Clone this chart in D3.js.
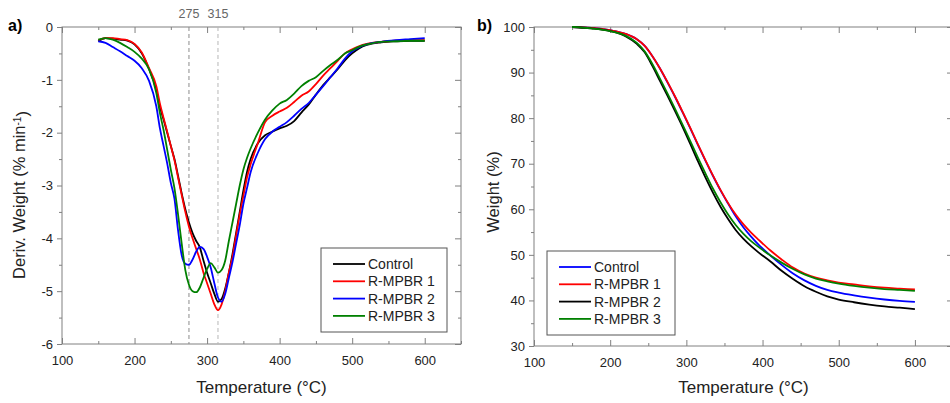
<!DOCTYPE html>
<html>
<head>
<meta charset="utf-8">
<script src="https://cdn.jsdelivr.net/npm/d3@7"></script>
<style>
  body { margin: 0; background: #fff; }
  svg { display: block; font-family: "Liberation Sans", Arial, sans-serif; }
</style>
</head>
<body>
<div class="chart"></div>
<script>
// ---- panel a : DTG curves (Deriv. weight, % min-1) ----
const tempA = [150,160,170,180,190,200,210,220,230,235,240,245,250,255,260,265,270,275,280,285,290,295,300,305,310,315,320,325,330,335,340,345,350,355,360,370,380,390,400,410,420,430,440,450,460,470,480,490,500,510,520,540,560,580,600];
const controlA = [-0.27,-0.21,-0.22,-0.24,-0.26,-0.33,-0.5,-0.8,-1.19,-1.51,-1.75,-2.0,-2.25,-2.5,-2.82,-3.15,-3.45,-3.7,-3.9,-4.05,-4.17,-4.42,-4.65,-4.85,-5.05,-5.2,-5.15,-4.95,-4.65,-4.3,-3.9,-3.5,-3.1,-2.75,-2.5,-2.2,-2.05,-1.98,-1.92,-1.87,-1.78,-1.62,-1.47,-1.28,-1.1,-0.95,-0.8,-0.63,-0.5,-0.4,-0.34,-0.29,-0.27,-0.26,-0.26];
const rmpbr1A = [-0.25,-0.21,-0.21,-0.23,-0.25,-0.32,-0.48,-0.78,-1.12,-1.45,-1.72,-1.98,-2.25,-2.52,-2.85,-3.18,-3.5,-3.78,-4.0,-4.2,-4.4,-4.65,-4.85,-5.05,-5.25,-5.36,-5.25,-5.0,-4.65,-4.35,-3.95,-3.55,-3.2,-2.85,-2.6,-2.2,-1.8,-1.68,-1.6,-1.53,-1.42,-1.3,-1.22,-1.08,-0.92,-0.78,-0.64,-0.5,-0.42,-0.36,-0.32,-0.28,-0.26,-0.25,-0.25];
const rmpbr2A = [-0.27,-0.3,-0.38,-0.46,-0.55,-0.64,-0.78,-1.02,-1.5,-1.92,-2.25,-2.58,-2.95,-3.25,-3.85,-4.32,-4.48,-4.5,-4.4,-4.25,-4.16,-4.2,-4.35,-4.55,-4.85,-5.12,-5.2,-5.05,-4.75,-4.45,-4.1,-3.75,-3.35,-3.05,-2.75,-2.38,-2.12,-1.98,-1.89,-1.8,-1.68,-1.55,-1.44,-1.28,-1.12,-0.95,-0.78,-0.6,-0.46,-0.38,-0.33,-0.28,-0.25,-0.23,-0.21];
const rmpbr3A = [-0.24,-0.21,-0.24,-0.3,-0.38,-0.47,-0.6,-0.8,-1.25,-1.63,-1.95,-2.32,-2.7,-3.05,-3.55,-4.1,-4.6,-4.88,-5.0,-5.02,-4.93,-4.75,-4.58,-4.47,-4.55,-4.65,-4.6,-4.42,-4.05,-3.7,-3.35,-3.0,-2.7,-2.48,-2.3,-2.0,-1.75,-1.58,-1.45,-1.38,-1.26,-1.12,-1.02,-0.95,-0.83,-0.72,-0.62,-0.5,-0.44,-0.37,-0.33,-0.28,-0.27,-0.26,-0.26];
const markTemps = [275, 315];

// ---- panel b : TGA curves (Weight, %) ----
const tempB = [150,175,200,220,235,245,255,265,275,285,295,305,315,325,335,345,355,365,375,385,395,410,425,440,455,470,485,500,520,540,560,580,600];
const controlB = [100,99.8,99.3,98.5,97.3,95.9,93.7,91.0,87.9,84.7,81.3,77.8,74.2,70.7,67.3,64.1,61.2,58.4,56.0,54.0,52.2,49.9,47.8,45.9,44.4,43.2,42.3,41.7,41.1,40.6,40.2,39.9,39.7];
const rmpbr1B = [100,99.8,99.3,98.5,97.3,95.9,93.7,91.0,88.0,84.8,81.4,77.9,74.3,70.8,67.4,64.2,61.3,58.8,56.7,54.9,53.3,51.0,49.0,47.2,45.9,45.0,44.4,43.9,43.5,43.1,42.8,42.6,42.4];
const rmpbr2B = [100,99.7,99.1,98.0,96.3,94.5,91.6,88.3,85.0,81.6,78.1,74.4,70.6,67.0,63.6,60.5,57.8,55.4,53.5,51.9,50.5,48.6,46.5,44.7,43.1,41.9,40.9,40.2,39.6,39.1,38.7,38.4,38.1];
const rmpbr3B = [100,99.7,99.1,98.1,96.5,94.7,92.0,88.8,85.5,82.1,78.6,75.0,71.4,67.9,64.5,61.5,58.8,56.5,54.6,53.0,51.7,49.9,48.3,46.9,45.7,44.8,44.2,43.7,43.2,42.8,42.5,42.3,42.1];

const seriesNames = ["Control", "R-MPBR 1", "R-MPBR 2", "R-MPBR 3"];
const colorsA = ["#000000", "#ff0000", "#0000ff", "#008000"];
const colorsB = ["#0000ff", "#ff0000", "#000000", "#008000"];

const xTicks = [100, 200, 300, 400, 500, 600];
const xMinor = [150, 250, 350, 450, 550, 650];
const yTicksA = [0, -1, -2, -3, -4, -5, -6];
const yMinorA = [-0.5, -1.5, -2.5, -3.5, -4.5, -5.5];
const yTicksB = [30, 40, 50, 60, 70, 80, 90, 100];
const yMinorB = [35, 45, 55, 65, 75, 85, 95];

const W = 950, H = 403;
const svg = d3.select(".chart").append("svg").attr("width", W).attr("height", H);
svg.append("rect").attr("width", W).attr("height", H).attr("fill", "#fff");

const frameColor = "#808080";

function panel(opt) {
  const x = d3.scaleLinear().domain([100, 650]).range([opt.left, opt.right]);
  const y = d3.scaleLinear().domain(opt.yDomain).range([opt.bottom, opt.top]);
  const g = svg.append("g");

  // axes (ticks) — left outward, others inward
  const styleAxis = sel => {
    sel.select(".domain").remove();
    sel.selectAll(".tick line").attr("stroke", frameColor);
    sel.selectAll(".tick text").attr("fill", "#222").style("font-size", "13px")
      .style("font-family", "'Liberation Sans', Arial, sans-serif");
  };
  g.append("g").attr("transform", `translate(0,${opt.bottom})`)
    .call(d3.axisBottom(x).tickValues(xTicks).tickSize(-6).tickPadding(12).tickFormat(d3.format("d"))).call(styleAxis);
  g.append("g").attr("transform", `translate(0,${opt.bottom})`)
    .call(d3.axisBottom(x).tickValues(xMinor).tickSize(-3).tickFormat("")).call(styleAxis);
  g.append("g").attr("transform", `translate(0,${opt.top})`)
    .call(d3.axisTop(x).tickValues(xTicks).tickSize(-6).tickFormat("")).call(styleAxis);
  g.append("g").attr("transform", `translate(0,${opt.top})`)
    .call(d3.axisTop(x).tickValues(xMinor).tickSize(-3).tickFormat("")).call(styleAxis);
  g.append("g").attr("transform", `translate(${opt.left},0)`)
    .call(d3.axisLeft(y).tickValues(opt.yTicks).tickSize(5).tickPadding(4).tickFormat(d => String(d))).call(styleAxis);
  g.append("g").attr("transform", `translate(${opt.left},0)`)
    .call(d3.axisLeft(y).tickValues(opt.yMinor).tickSize(3).tickFormat("")).call(styleAxis);
  g.append("g").attr("transform", `translate(${opt.right},0)`)
    .call(d3.axisRight(y).tickValues(opt.yTicks).tickSize(-6).tickFormat("")).call(styleAxis);
  g.append("g").attr("transform", `translate(${opt.right},0)`)
    .call(d3.axisRight(y).tickValues(opt.yMinor).tickSize(-3).tickFormat("")).call(styleAxis);

  g.append("rect")
    .attr("x", opt.left).attr("y", opt.top)
    .attr("width", opt.right - opt.left).attr("height", opt.bottom - opt.top)
    .attr("fill", "none").attr("stroke", frameColor).attr("stroke-width", 1);

  if (opt.marks) {
    opt.marks.forEach((t, i) => {
      g.append("line")
        .attr("x1", x(t)).attr("x2", x(t)).attr("y1", opt.top).attr("y2", opt.bottom)
        .attr("stroke", i === 0 ? "#8c8c8c" : "#b8b8b8").attr("stroke-width", 1)
        .attr("stroke-dasharray", "4,3");
      g.append("text").attr("x", x(t)).attr("y", 18).attr("text-anchor", "middle")
        .attr("fill", "#666").style("font-size", "12.5px").text(t);
    });
  }

  const line = d3.line().x(d => x(d[0])).y(d => y(d[1])).curve(d3.curveMonotoneX);
  opt.series.forEach((vals, i) => {
    g.append("path")
      .datum(opt.temps.map((t, j) => [t, vals[j]]))
      .attr("d", line).attr("fill", "none")
      .attr("stroke", opt.colors[i]).attr("stroke-width", 1.8)
      .attr("stroke-linejoin", "round");
  });

  // legend
  const lg = g.append("g");
  lg.append("rect").attr("x", opt.legend.x).attr("y", opt.legend.y)
    .attr("width", opt.legend.w).attr("height", opt.legend.h)
    .attr("fill", "#fff").attr("stroke", "#555").attr("stroke-width", 1);
  seriesNames.forEach((name, i) => {
    const yy = opt.legend.y + 16 + i * 17.3;
    lg.append("line").attr("x1", opt.legend.x + 12).attr("x2", opt.legend.x + 44)
      .attr("y1", yy).attr("y2", yy).attr("stroke", opt.colors[i]).attr("stroke-width", 1.8);
    lg.append("text").attr("x", opt.legend.x + 47).attr("y", yy + 5)
      .attr("fill", "#222").style("font-size", "14px").text(name);
  });

  // titles
  g.append("text").attr("x", (opt.left + opt.right) / 2).attr("y", 393)
    .attr("text-anchor", "middle").attr("fill", "#222").style("font-size", "17px")
    .text("Temperature (°C)");
  const yl = g.append("text")
    .attr("transform", `translate(${opt.yLabelX},${opt.yLabelY}) rotate(-90)`)
    .attr("text-anchor", "middle").attr("fill", "#222").style("font-size", "16.5px");
  opt.yLabel(yl);
  g.append("text").attr("x", opt.tagX).attr("y", 31).attr("fill", "#000")
    .style("font-size", "16px").style("font-weight", "bold").text(opt.tag);
}

panel({
  left: 62, right: 461, top: 27, bottom: 344,
  yDomain: [-6, 0], yTicks: yTicksA, yMinor: yMinorA,
  temps: tempA, series: [controlA, rmpbr1A, rmpbr2A, rmpbr3A], colors: colorsA,
  marks: markTemps,
  legend: { x: 321, y: 248, w: 126, h: 84 },
  yLabelX: 25, yLabelY: 195,
  yLabel: t => {
    t.append("tspan").text("Deriv. Weight (% min");
    t.append("tspan").attr("dy", "-0.45em").style("font-size", "10px").text("-1");
    t.append("tspan").attr("dy", "0.45em").text(")");
  },
  tag: "a)", tagX: 8
});

panel({
  left: 534, right: 953, top: 27, bottom: 346,
  yDomain: [30, 100], yTicks: yTicksB, yMinor: yMinorB,
  temps: tempB, series: [controlB, rmpbr1B, rmpbr2B, rmpbr3B], colors: colorsB,
  legend: { x: 547, y: 251, w: 128, h: 84 },
  yLabelX: 499, yLabelY: 192,
  yLabel: t => t.text("Weight (%)"),
  tag: "b)", tagX: 477
});
</script>
</body>
</html>
